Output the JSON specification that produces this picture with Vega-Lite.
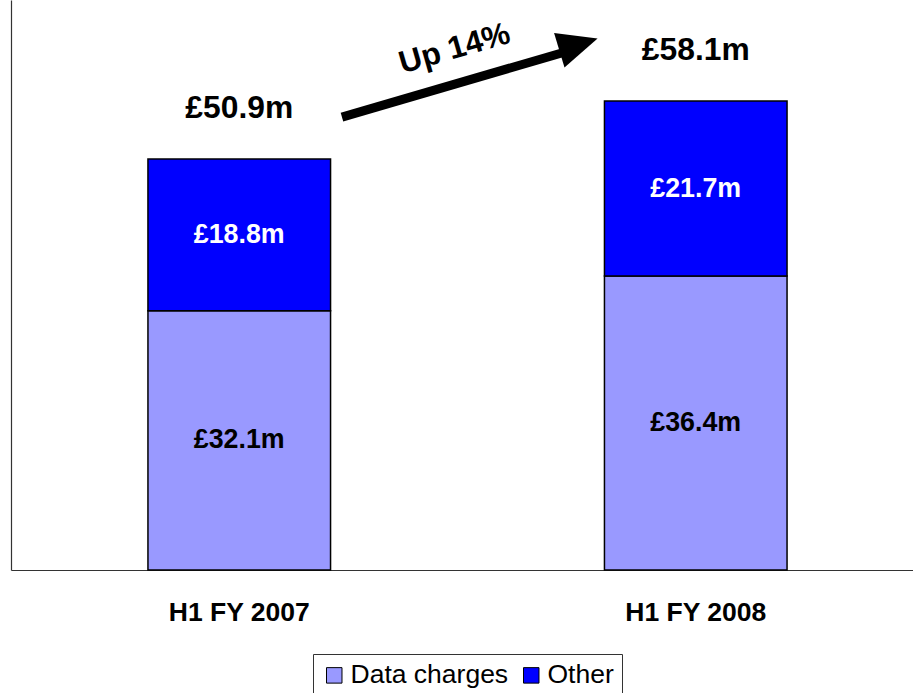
{
  "$schema": "https://vega.github.io/schema/vega-lite/v6.json",
  "width": 902,
  "height": 570,
  "autosize": "none",
  "padding": {"left": 11, "top": 0, "right": 0, "bottom": 123},
  "background": "white",
  "config": {
    "view": {"stroke": null},
    "font": "Liberation Sans",
    "axis": {"domainColor": "#333333", "domainWidth": 1.2}
  },
  "datasets": {
    "parts": [
      {"period": "H1 FY 2007", "series": "Data charges", "value": 32.1, "label": "£32.1m"},
      {"period": "H1 FY 2007", "series": "Other", "value": 18.8, "label": "£18.8m"},
      {"period": "H1 FY 2008", "series": "Data charges", "value": 36.4, "label": "£36.4m"},
      {"period": "H1 FY 2008", "series": "Other", "value": 21.7, "label": "£21.7m"}
    ],
    "totals": [
      {"period": "H1 FY 2007", "total": 50.9, "label": "£50.9m"},
      {"period": "H1 FY 2008", "total": 58.1, "label": "£58.1m"}
    ],
    "arrow": [
      {"x": 0.725, "y": 56.1, "x2": 1.21, "y2": 64.1}
    ],
    "head": [
      {"x": 1.243, "y": 65.1}
    ],
    "note": [
      {"x": 0.972, "y": 64.5, "label": "Up 14%"}
    ]
  },
  "resolve": {"scale": {"x": "independent"}},
  "layer": [
    {
      "layer": [
        {
          "data": {"name": "parts"},
          "mark": {"type": "bar", "stroke": "#000000", "strokeWidth": 1.5},
          "encoding": {
            "x": {
              "field": "period", "type": "nominal",
              "scale": {"range": [0, 913], "paddingInner": 0.6, "paddingOuter": 0.3},
              "axis": {"title": null, "labelAngle": 0, "ticks": false, "tickSize": 0, "labelPadding": 29,
                       "labelFontSize": 26.5, "labelFontWeight": "bold", "labelColor": "#000000", "labelFont": "Liberation Sans"}
            },
            "y": {
              "field": "value", "type": "quantitative", "stack": "zero",
              "scale": {"domain": [0, 70.6], "nice": false},
              "axis": {"title": null, "labels": false, "ticks": false, "grid": false}
            },
            "color": {
              "field": "series", "type": "nominal",
              "scale": {"domain": ["Data charges", "Other"], "range": ["#9999FF", "#0000FF"]},
              "legend": {
                "title": null, "orient": "none", "legendX": 302, "legendY": 654, "direction": "horizontal",
                "symbolType": "square", "symbolSize": 240, "symbolStrokeColor": "#000000", "symbolStrokeWidth": 1,
                "labelFontSize": 26.5, "labelFont": "Liberation Sans", "labelColor": "#000000", "labelOffset": 3,
                "columnPadding": 9, "padding": 8, "strokeColor": "#333333", "fillColor": "white"
              }
            },
            "order": {"field": "series", "sort": "ascending"}
          }
        },
        {
          "data": {"name": "parts"},
          "transform": [
            {"stack": "value", "groupby": ["period"], "sort": [{"field": "series", "order": "ascending"}], "as": ["v0", "v1"]},
            {"calculate": "(datum.v0 + datum.v1) / 2", "as": "mid"}
          ],
          "mark": {"type": "text", "fontSize": 26.8, "fontWeight": "bold", "font": "Liberation Sans", "baseline": "middle", "align": "center"},
          "encoding": {
            "x": {"field": "period", "type": "nominal"},
            "y": {"field": "mid", "type": "quantitative", "title": null},
            "text": {"field": "label"},
            "color": {"condition": {"test": "datum.series === 'Other'", "value": "#FFFFFF"}, "value": "#000000"}
          }
        },
        {
          "data": {"name": "totals"},
          "mark": {"type": "text", "fontSize": 31.8, "fontWeight": "bold", "font": "Liberation Sans", "baseline": "middle", "align": "center", "dy": -51, "color": "#000000"},
          "encoding": {
            "x": {"field": "period", "type": "nominal"},
            "y": {"field": "total", "type": "quantitative", "title": null},
            "text": {"field": "label"}
          }
        }
      ]
    },
    {
      "layer": [
        {
          "data": {"name": "arrow"},
          "mark": {"type": "rule", "strokeWidth": 9, "color": "#000000", "strokeCap": "butt"},
          "encoding": {
            "x": {"field": "x", "type": "quantitative", "scale": {"domain": [0, 2], "range": [0, 913]}, "axis": null},
            "x2": {"field": "x2"},
            "y": {"field": "y", "type": "quantitative", "title": null},
            "y2": {"field": "y2"}
          }
        },
        {
          "data": {"name": "head"},
          "mark": {"type": "point", "shape": "M-1,-0.9L1,0L-1,0.9Z", "filled": true, "color": "#000000", "opacity": 1, "size": 1600, "angle": -16.8},
          "encoding": {
            "x": {"field": "x", "type": "quantitative"},
            "y": {"field": "y", "type": "quantitative", "title": null}
          }
        },
        {
          "data": {"name": "note"},
          "mark": {"type": "text", "fontSize": 31.5, "fontWeight": "bold", "font": "Liberation Sans", "baseline": "middle", "align": "center", "angle": -16, "color": "#000000"},
          "encoding": {
            "x": {"field": "x", "type": "quantitative"},
            "y": {"field": "y", "type": "quantitative", "title": null},
            "text": {"field": "label"}
          }
        }
      ]
    }
  ]
}
